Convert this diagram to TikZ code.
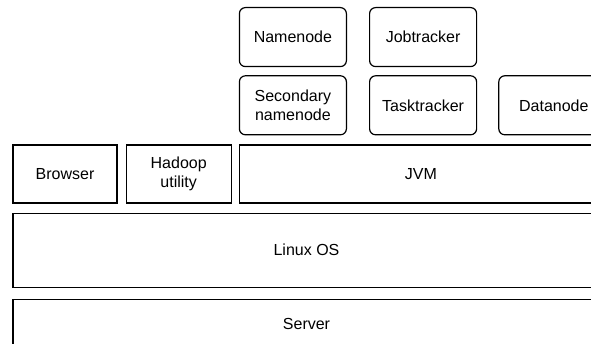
\documentclass[tikz,border=0pt]{standalone}
\usepackage{fontspec}
\setmainfont{Liberation Sans}
\usetikzlibrary{positioning}
\tikzset{
  labelfont/.style={font=\fontsize{16}{19}\selectfont},
  daemon/.style={rectangle, rounded corners=6pt, draw=black, line width=1.2pt,
    minimum width=107pt, minimum height=59pt, align=center, inner sep=2pt, labelfont},
  tool/.style={rectangle, draw=black, line width=1.2pt, minimum height=58pt,
    align=center, inner sep=2pt, labelfont},
  layer/.style={rectangle, draw=black, line width=1.2pt, minimum width=587pt,
    align=center, inner sep=2pt, labelfont}
}
\begin{document}
\begin{tikzpicture}
    \useasboundingbox (0,0) rectangle (591pt,344pt);
    \clip (0,0) rectangle (591pt,344pt);
    % tools and JVM row
    \node[tool,minimum width=104pt] (browser) at (65pt,170pt) {Browser};
    \node[tool,minimum width=105pt,right=8pt of browser] (hadoop) {Hadoop\\utility};
    \node[tool,minimum width=363pt,right=7pt of hadoop] (jvm) {JVM};
    % daemons
    \node[daemon,above right=9pt and 0pt of jvm.north west] (secnn) {Secondary\\namenode};
    \node[daemon,right=22pt of secnn] (tt) {Tasktracker};
    \node[daemon,right=21pt of tt,minimum width=110pt] (dn) {Datanode};
    \node[daemon,above=8pt of secnn] (nn) {Namenode};
    \node[daemon,above=8pt of tt] (jt) {Jobtracker};
    % OS and hardware
    \node[layer,minimum height=74pt,below right=9pt and 0pt of browser.south west] (linux) {Linux OS};
    \node[layer,minimum height=50pt,below=11pt of linux] (server) {Server};
\end{tikzpicture}
\end{document}
